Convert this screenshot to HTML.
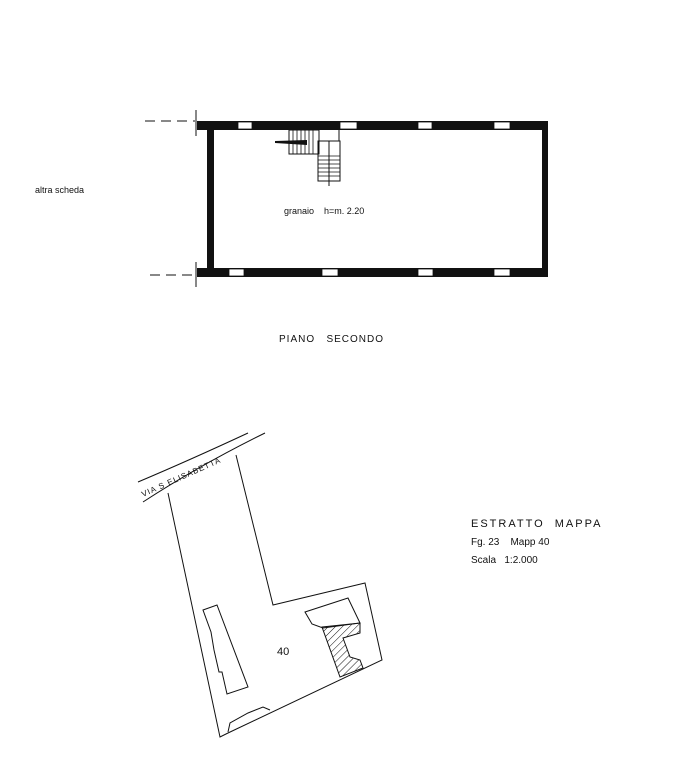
<!DOCTYPE html>
<html><head><style>
body{margin:0;background:#fff;}
svg{display:block;}
text{font-family:"Liberation Sans",sans-serif;fill:#111;}
</style></head><body>
<svg width="697" height="768" viewBox="0 0 697 768" xmlns="http://www.w3.org/2000/svg">
<g fill="#111">
<rect x="197" y="121" width="351" height="9"/>
<rect x="197" y="268" width="351" height="9"/>
<rect x="207" y="121" width="7" height="156"/>
<rect x="542" y="121" width="6" height="156"/>
</g>
<g fill="#fff" stroke="#111" stroke-width="0.8">
<rect x="238" y="122" width="14" height="7"/><rect x="340" y="122" width="17" height="7"/>
<rect x="418" y="122" width="14" height="7"/><rect x="494" y="122" width="16" height="7"/>
<rect x="229" y="269" width="15" height="7"/><rect x="322" y="269" width="16" height="7"/>
<rect x="418" y="269" width="15" height="7"/><rect x="494" y="269" width="16" height="7"/>
</g>
<g stroke="#111" stroke-width="1" fill="none">
<line x1="145" y1="121" x2="195" y2="121" stroke-dasharray="10,6"/>
<line x1="150" y1="275" x2="195" y2="275" stroke-dasharray="10,6"/>
<line x1="196" y1="110" x2="196" y2="136"/>
<line x1="196" y1="262" x2="196" y2="287"/>
<rect x="289" y="130" width="30" height="24"/>
<rect x="318" y="141" width="22" height="40"/>
<line x1="339" y1="130" x2="339" y2="141"/>
<line x1="329" y1="141" x2="329" y2="186"/>
</g>
<g stroke="#111" stroke-width="0.8">
<line x1="293" y1="130" x2="293" y2="154"/><line x1="297" y1="130" x2="297" y2="154"/>
<line x1="301" y1="130" x2="301" y2="154"/><line x1="305" y1="130" x2="305" y2="154"/>
<line x1="309" y1="130" x2="309" y2="154"/><line x1="313" y1="130" x2="313" y2="154"/>
<line x1="318" y1="156" x2="340" y2="156"/><line x1="318" y1="160" x2="340" y2="160"/>
<line x1="318" y1="164" x2="340" y2="164"/><line x1="318" y1="168" x2="340" y2="168"/>
<line x1="318" y1="172" x2="340" y2="172"/><line x1="318" y1="176" x2="340" y2="176"/>
</g>
<polygon points="275,141 307,140 307,145 275,143" fill="#111"/>
<text x="35" y="193" font-size="9">altra scheda</text>
<text x="284" y="214" font-size="9">granaio&#160;&#160;&#160;&#160;h=m. 2.20</text>
<text x="279" y="342" font-size="10" letter-spacing="1">PIANO&#160;&#160;&#160;SECONDO</text>
<g stroke="#111" stroke-width="1" fill="none">
<path d="M138,482 Q190,460 248,433"/>
<path d="M143,502 Q200,465 265,433"/>
<polyline points="168,493 220,737 228,733 382,660 365,583 273,605 236,455"/>
<polygon points="203,610 217,605 248,687 227,694 222,672 219,672 214,650 211,632"/>
<polygon points="305,612 348,598 360,623 323,628 312,624"/>
<polygon points="322,627 360,623 360,633 343,638 350,657 360,660 363,668 340,677"/>
<polyline points="228,732 230,723 248,713 263,707 270,710"/>
</g>
<defs><pattern id="h" width="5" height="5" patternUnits="userSpaceOnUse" patternTransform="rotate(45)"><line x1="0" y1="0" x2="0" y2="5" stroke="#111" stroke-width="1"/></pattern></defs>
<polygon points="322,627 360,623 360,633 343,638 350,657 360,660 363,668 340,677" fill="url(#h)"/>
<text x="0" y="0" font-size="8" transform="translate(143,497) rotate(-24)" letter-spacing="1">VIA S ELISABETTA</text>
<text x="277" y="655" font-size="11">40</text>
<text x="471" y="527" font-size="11" letter-spacing="2">ESTRATTO&#160;&#160;MAPPA</text>
<text x="471" y="545" font-size="10">Fg. 23&#160;&#160;&#160;&#160;Mapp 40</text>
<text x="471" y="563" font-size="10">Scala&#160;&#160;&#160;1:2.000</text>
</svg>
</body></html>
